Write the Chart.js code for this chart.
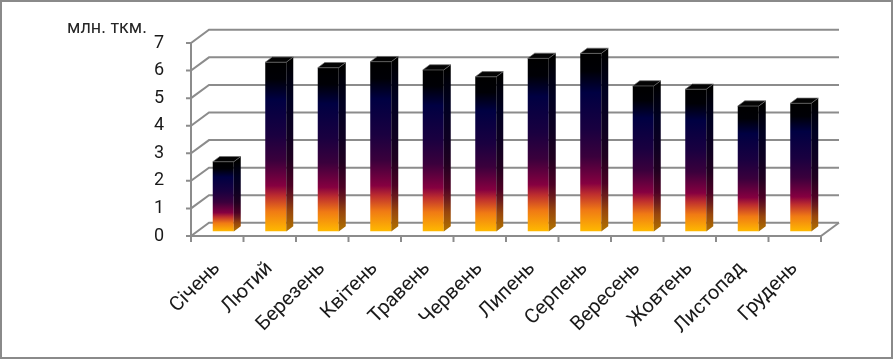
<!DOCTYPE html>
<html>
<head>
<meta charset="utf-8">
<script src="https://cdn.jsdelivr.net/npm/chart.js@4.4.1/dist/chart.umd.min.js"></script>
<style>
  html, body { margin: 0; padding: 0; background: #fff; }
  canvas { display: block; }
</style>
</head>
<body>
<canvas id="chart" width="894" height="360"></canvas>
<script>
const months = ["Січень", "Лютий", "Березень", "Квітень", "Травень", "Червень",
  "Липень", "Серпень", "Вересень", "Жовтень", "Листопад", "Грудень"];
const freight = [2.53, 6.14, 5.94, 6.16, 5.86, 5.61, 6.28, 6.46, 5.28, 5.16, 4.55, 4.65];
const yTicks = [0, 1, 2, 3, 4, 5, 6, 7];
const unitLabel = "млн. ткм.";

// oblique projection offsets
const WALL = { dx: 18, dy: -13.2 };
const BAR_SHIFT = { dx: 6, dy: -4.5 };
const BAR_DEPTH = { dx: 7, dy: -5.2 };

const FRONT_STOPS = [
  [0, "#000000"], [0.1, "#000006"], [0.22, "#000042"], [0.43, "#1a0040"],
  [0.58, "#3a003c"], [0.73, "#860040"], [0.79, "#be2e2e"], [0.88, "#f07a14"], [1, "#ffba00"]
];
const SIDE_STOPS = [
  [0, "#000000"], [0.22, "#000022"], [0.43, "#0e0022"], [0.58, "#200020"],
  [0.73, "#4c0024"], [0.8, "#6c1c1c"], [0.88, "#98460c"], [1, "#b07400"]
];

function makeGradient(ctx, top, bottom, stops) {
  const g = ctx.createLinearGradient(0, top, 0, bottom);
  stops.forEach(s => g.addColorStop(s[0], s[1]));
  return g;
}

const wall3d = {
  id: "wall3d",
  beforeDraw(chart) {
    const ctx = chart.ctx;
    ctx.save();
    ctx.fillStyle = "#fff";
    ctx.fillRect(0, 0, chart.width, chart.height);
    ctx.restore();
  },
  beforeDatasetsDraw(chart) {
    const { ctx, chartArea: a, scales } = chart;
    const y = scales.y;
    ctx.save();
    ctx.strokeStyle = "#8c8c8c";
    ctx.lineWidth = 2;
    // back wall grid + side diagonals
    yTicks.forEach(v => {
      const py = y.getPixelForValue(v);
      ctx.beginPath();
      ctx.moveTo(a.left - 5, py);
      ctx.lineTo(a.left, py);
      ctx.lineTo(a.left + WALL.dx, py + WALL.dy);
      ctx.lineTo(a.right + WALL.dx, py + WALL.dy);
      ctx.stroke();
    });
    // front axes
    ctx.beginPath();
    ctx.moveTo(a.left, a.top);
    ctx.lineTo(a.left, a.bottom);
    ctx.lineTo(a.right, a.bottom);
    ctx.lineTo(a.right + WALL.dx, a.bottom + WALL.dy);
    ctx.stroke();
    // category ticks
    const step = (a.right - a.left) / months.length;
    for (let i = 0; i <= months.length; i++) {
      const px = a.left + i * step;
      ctx.beginPath();
      ctx.moveTo(px, a.bottom);
      ctx.lineTo(px, a.bottom + 6);
      ctx.stroke();
    }
    ctx.restore();
    ctx.save();
    ctx.translate(BAR_SHIFT.dx, BAR_SHIFT.dy);
  },
  afterDatasetsDraw(chart) {
    const ctx = chart.ctx;
    const meta = chart.getDatasetMeta(0);
    meta.data.forEach(bar => {
      const p = bar.getProps(["x", "y", "base", "width"], true);
      const x1 = p.x - p.width / 2, x2 = p.x + p.width / 2;
      const d = BAR_DEPTH;
      // side face
      ctx.beginPath();
      ctx.moveTo(x2, p.y);
      ctx.lineTo(x2 + d.dx, p.y + d.dy);
      ctx.lineTo(x2 + d.dx, p.base + d.dy);
      ctx.lineTo(x2, p.base);
      ctx.closePath();
      ctx.fillStyle = makeGradient(ctx, p.y, p.base, SIDE_STOPS);
      ctx.fill();
      // top face
      ctx.beginPath();
      ctx.moveTo(x1, p.y);
      ctx.lineTo(x1 + d.dx, p.y + d.dy);
      ctx.lineTo(x2 + d.dx, p.y + d.dy);
      ctx.lineTo(x2, p.y);
      ctx.closePath();
      ctx.fillStyle = "#040404";
      ctx.fill();
      ctx.strokeStyle = "rgba(110,110,110,0.7)";
      ctx.lineWidth = 1;
      ctx.stroke();
    });
    ctx.restore();
  },
  afterDraw(chart) {
    const ctx = chart.ctx;
    ctx.save();
    ctx.fillStyle = "#262626";
    ctx.font = "18px Roboto";
    ctx.textAlign = "center";
    ctx.textBaseline = "alphabetic";
    ctx.fillText(unitLabel, 107, 33);
    ctx.strokeStyle = "#8a8a8a";
    ctx.lineWidth = 2;
    ctx.strokeRect(1, 1, 891, 357);
    ctx.restore();
  }
};

new Chart(document.getElementById("chart"), {
  type: "bar",
  data: {
    labels: months,
    datasets: [{
      label: unitLabel,
      data: freight,
      barPercentage: 0.4,
      categoryPercentage: 1,
      borderWidth: 0,
      backgroundColor: (c) => {
        const chart = c.chart;
        if (!chart.chartArea || c.raw === undefined) return "#000";
        const y = chart.scales.y;
        return makeGradient(chart.ctx, y.getPixelForValue(c.raw), y.getPixelForValue(0), FRONT_STOPS);
      }
    }]
  },
  options: {
    responsive: false,
    devicePixelRatio: 1,
    animation: false,
    layout: { padding: { top: 43, right: 73, bottom: 0, left: 0 } },
    plugins: { legend: { display: false }, tooltip: { enabled: false } },
    scales: {
      x: {
        offset: true,
        grid: { display: false },
        border: { display: false },
        afterFit: (s) => { s.height = 124; },
        ticks: {
          autoSkip: false, minRotation: 45, maxRotation: 45, padding: 13,
          color: "#1a1a1a", font: { family: "Roboto", size: 20 }
        }
      },
      y: {
        min: 0, max: 7,
        grid: { display: false },
        border: { display: false },
        afterFit: (s) => { s.width = 191; },
        afterBuildTicks: (s) => { s.ticks = yTicks.map(v => ({ value: v })); },
        ticks: {
          padding: 19, color: "#1a1a1a", font: { family: "Roboto", size: 18 }
        }
      }
    }
  },
  plugins: [wall3d]
});
</script>
</body>
</html>
